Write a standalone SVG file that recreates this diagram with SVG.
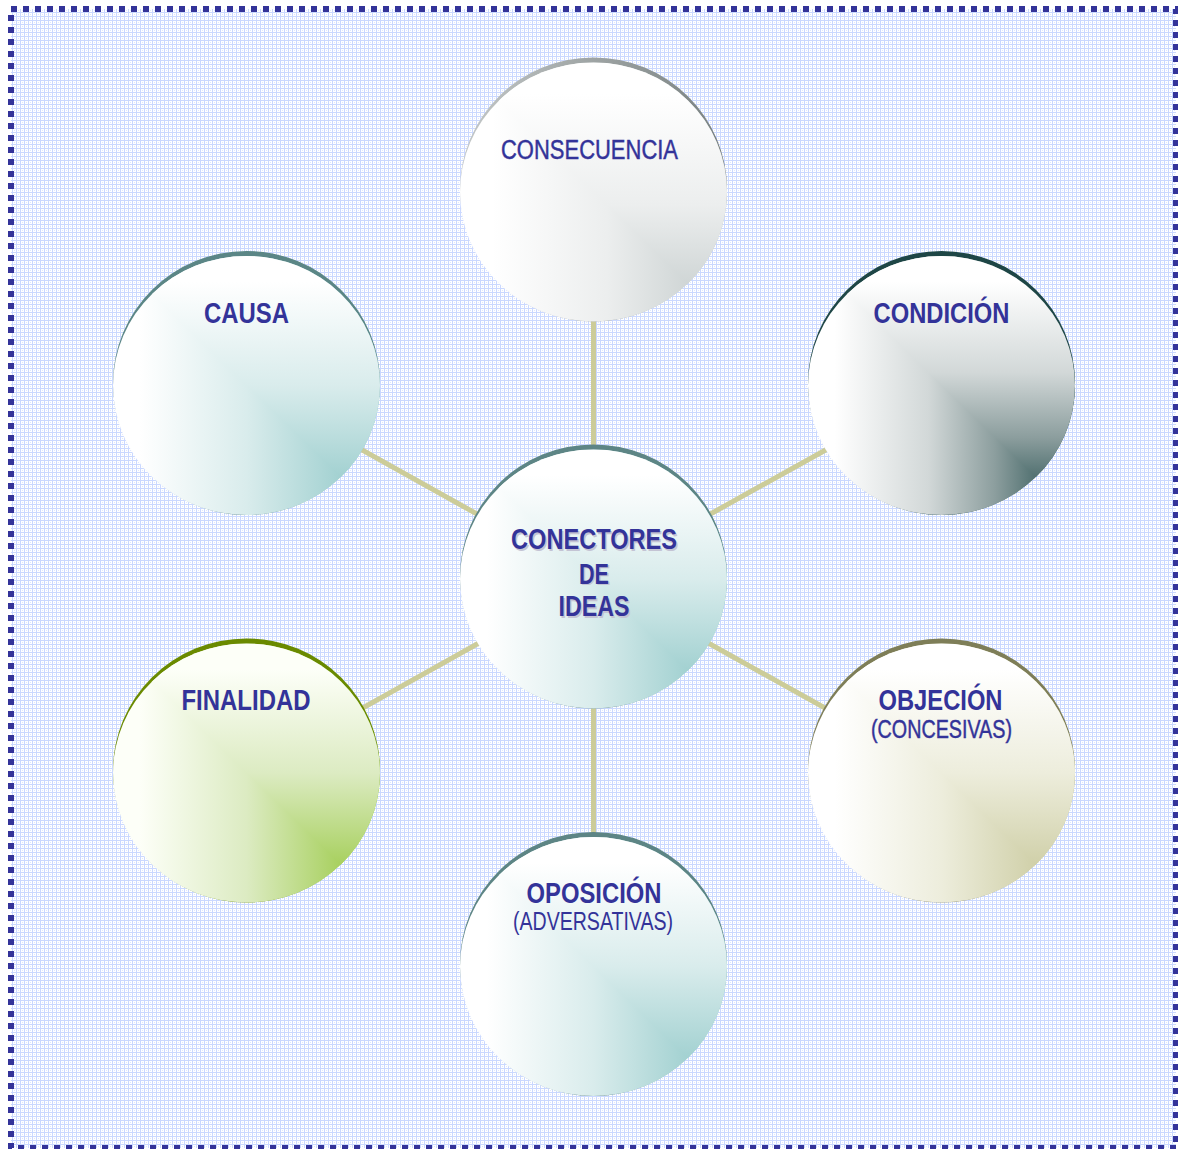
<svg xmlns="http://www.w3.org/2000/svg" width="1178" height="1149" viewBox="0 0 1178 1149">
<style>
.lbl{font-family:"Liberation Sans Narrow","Arial Narrow","Liberation Sans",Arial,sans-serif;fill:#333399;text-anchor:middle}
.b{font-weight:bold}
.r{stroke:#333399;stroke-width:0.45}
.sh{fill:#c4c4d4}
.conn line{stroke:#cccc99;stroke-width:5}
</style>
<defs>
<pattern id="grid" width="4" height="4" patternUnits="userSpaceOnUse">
<rect width="4" height="4" fill="#ffffff"/>
<rect width="4" height="1" fill="#cad8ff"/>
<rect width="1" height="4" fill="#cad8ff"/>
<rect x="2" y="2" width="1" height="1" fill="#dde6ff"/>
</pattern>
<clipPath id="oval" clipPathUnits="objectBoundingBox"><ellipse cx=".5" cy=".5" rx=".5" ry=".5"/></clipPath>
<linearGradient id="h-gray" x1="0" y1="0" x2="1" y2="0">
<stop offset="0.12" stop-color="#ffffff"/><stop offset="0.55" stop-color="#eceeee"/><stop offset="1" stop-color="#c2caca"/>
</linearGradient>
<linearGradient id="v-gray" href="#h-gray" x2="0" y2="1"/>
<linearGradient id="h-teal" x1="0" y1="0" x2="1" y2="0">
<stop offset="0.1" stop-color="#ffffff"/><stop offset="0.5" stop-color="#d9ecec"/><stop offset="1" stop-color="#8cc6c6"/>
</linearGradient>
<linearGradient id="v-teal" href="#h-teal" x2="0" y2="1"/>
<linearGradient id="h-dark" x1="0" y1="0" x2="1" y2="0">
<stop offset="0.1" stop-color="#ffffff"/><stop offset="0.45" stop-color="#d2d8d8"/><stop offset="0.7" stop-color="#8c9e9e"/><stop offset="1" stop-color="#1a4646"/>
</linearGradient>
<linearGradient id="v-dark" href="#h-dark" x2="0" y2="1"/>
<linearGradient id="h-green" x1="0" y1="0" x2="1" y2="0">
<stop offset="0.1" stop-color="#fdfff8"/><stop offset="0.5" stop-color="#dcebc2"/><stop offset="1" stop-color="#92c536"/>
</linearGradient>
<linearGradient id="v-green" href="#h-green" x2="0" y2="1"/>
<linearGradient id="h-khaki" x1="0" y1="0" x2="1" y2="0">
<stop offset="0.1" stop-color="#ffffff"/><stop offset="0.5" stop-color="#ededdc"/><stop offset="1" stop-color="#c4c494"/>
</linearGradient>
<linearGradient id="v-khaki" href="#h-khaki" x2="0" y2="1"/>
<linearGradient id="rim-gray" x1="0" y1="0" x2="1" y2="0"><stop offset="0" stop-color="#c4c8c8"/><stop offset="1" stop-color="#788080"/></linearGradient>
</defs>

<rect width="1178" height="1149" fill="#ffffff"/>
<rect x="11" y="9" width="1165" height="1139" fill="url(#grid)"/>
<rect x="11" y="9" width="1165" height="1139" fill="none" stroke="#333399" stroke-width="6" stroke-dasharray="6 6"/>

<g id="connectors" class="conn">
<line x1="593.5" y1="579" x2="593.5" y2="192"/>
<line x1="593.5" y1="579" x2="246.5" y2="385.5"/>
<line x1="593.5" y1="579" x2="941.5" y2="385.5"/>
<line x1="593.5" y1="579" x2="246.5" y2="773"/>
<line x1="593.5" y1="579" x2="941.5" y2="773"/>
<line x1="593.5" y1="579" x2="593.5" y2="966.5"/>
</g>

<g id="consecuencia">
<ellipse cx="593.5" cy="189.5" rx="133.5" ry="132" fill="url(#rim-gray)"/>
<ellipse cx="593.5" cy="192" rx="133.5" ry="129.5" fill="url(#h-gray)"/>
<path d="M460 62.5H727V321.5Z" fill="url(#v-gray)" clip-path="url(#oval)"/>
<text class="lbl r" x="589.5" y="159" font-size="27" textLength="177" lengthAdjust="spacingAndGlyphs">CONSECUENCIA</text>
</g>

<g id="causa">
<ellipse cx="246.5" cy="383" rx="133.5" ry="132" fill="#5b8686"/>
<ellipse cx="246.5" cy="385.5" rx="133.5" ry="129.5" fill="url(#h-teal)"/>
<path d="M113 256H380V515Z" fill="url(#v-teal)" clip-path="url(#oval)"/>
<text class="lbl b" x="246.5" y="323" font-size="29" textLength="85" lengthAdjust="spacingAndGlyphs">CAUSA</text>
</g>

<g id="condicion">
<ellipse cx="941.5" cy="383" rx="133.5" ry="132" fill="#1e4646"/>
<ellipse cx="941.5" cy="385.5" rx="133.5" ry="129.5" fill="url(#h-dark)"/>
<path d="M808 256H1075V515Z" fill="url(#v-dark)" clip-path="url(#oval)"/>
<text class="lbl b" x="941.5" y="323" font-size="29" textLength="136" lengthAdjust="spacingAndGlyphs">CONDICIÓN</text>
</g>

<g id="conectores">
<ellipse cx="593.5" cy="576.5" rx="133.5" ry="132" fill="#5d8585"/>
<ellipse cx="593.5" cy="579" rx="133.5" ry="129.5" fill="url(#h-teal)"/>
<path d="M460 449.5H727V708.5Z" fill="url(#v-teal)" clip-path="url(#oval)"/>
<text class="lbl b sh" x="595.5" y="550.5" font-size="29" textLength="166" lengthAdjust="spacingAndGlyphs">CONECTORES</text>
<text class="lbl b sh" x="595.5" y="585" font-size="29" textLength="30" lengthAdjust="spacingAndGlyphs">DE</text>
<text class="lbl b sh" x="595.5" y="617.5" font-size="29" textLength="71" lengthAdjust="spacingAndGlyphs">IDEAS</text>
<text class="lbl b" x="594" y="549" font-size="29" textLength="166" lengthAdjust="spacingAndGlyphs">CONECTORES</text>
<text class="lbl b" x="594" y="583.5" font-size="29" textLength="30" lengthAdjust="spacingAndGlyphs">DE</text>
<text class="lbl b" x="594" y="616" font-size="29" textLength="71" lengthAdjust="spacingAndGlyphs">IDEAS</text>
</g>

<g id="finalidad">
<ellipse cx="246.5" cy="770.5" rx="133.5" ry="132" fill="#6a8a00"/>
<ellipse cx="246.5" cy="773" rx="133.5" ry="129.5" fill="url(#h-green)"/>
<path d="M113 643.5H380V902.5Z" fill="url(#v-green)" clip-path="url(#oval)"/>
<text class="lbl b" x="246" y="710" font-size="29" textLength="129" lengthAdjust="spacingAndGlyphs">FINALIDAD</text>
</g>

<g id="objecion">
<ellipse cx="941.5" cy="770.5" rx="133.5" ry="132" fill="#7e7e58"/>
<ellipse cx="941.5" cy="773" rx="133.5" ry="129.5" fill="url(#h-khaki)"/>
<path d="M808 643.5H1075V902.5Z" fill="url(#v-khaki)" clip-path="url(#oval)"/>
<text class="lbl b" x="940.5" y="710" font-size="29" textLength="124" lengthAdjust="spacingAndGlyphs">OBJECIÓN</text>
<text class="lbl r" x="941.5" y="738" font-size="25" textLength="141" lengthAdjust="spacingAndGlyphs">(CONCESIVAS)</text>
</g>

<g id="oposicion">
<ellipse cx="593.5" cy="964" rx="133.5" ry="132" fill="#5d8585"/>
<ellipse cx="593.5" cy="966.5" rx="133.5" ry="129.5" fill="url(#h-teal)"/>
<path d="M460 837H727V1096Z" fill="url(#v-teal)" clip-path="url(#oval)"/>
<text class="lbl b" x="594" y="903" font-size="29" textLength="135" lengthAdjust="spacingAndGlyphs">OPOSICIÓN</text>
<text class="lbl" x="593" y="930" font-size="25" textLength="160" lengthAdjust="spacingAndGlyphs">(ADVERSATIVAS)</text>
</g>
</svg>
